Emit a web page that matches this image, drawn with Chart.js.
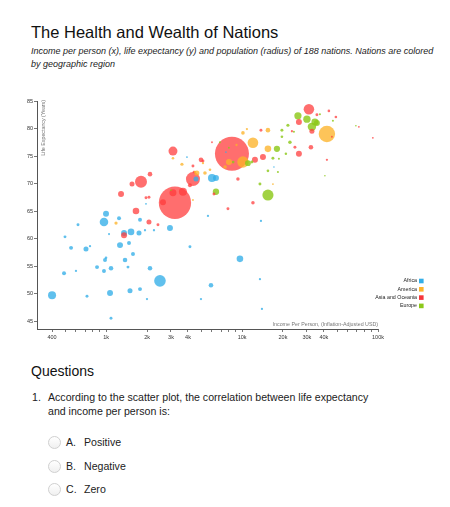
<!DOCTYPE html>
<html>
<head>
<meta charset="utf-8">
<script src="https://cdn.jsdelivr.net/npm/chart.js@4.4.1/dist/chart.umd.min.js"></script>
<style>
  html,body{margin:0;padding:0;background:#fff;}
  body{width:450px;height:507px;position:relative;overflow:hidden;font-family:"Liberation Sans",Arial,Helvetica,sans-serif;color:#111;}
  .abs{position:absolute;margin:0;white-space:nowrap;}
  #title{left:31px;top:22px;font-size:16.5px;font-weight:normal;line-height:20px;}
  #sub{left:31px;top:45px;font-size:9px;font-style:italic;line-height:13px;color:#222;}
  #wrap{position:absolute;left:0;top:90px;width:450px;height:260px;}
  #qh{left:31px;top:363px;font-size:14px;font-weight:normal;}
  .q{font-size:10.6px;line-height:14px;color:#222;}
  .radio{position:absolute;width:11px;height:11px;border-radius:50%;border:1px solid #d0d0d0;background:linear-gradient(#fff,#f0f0f0);}
</style>
</head>
<body>
<h1 class="abs" id="title">The Health and Wealth of Nations</h1>
<p class="abs" id="sub">Income per person (x), life expectancy (y) and population (radius) of 188 nations. Nations are colored<br>by geographic region</p>
<div id="wrap"><canvas id="c"></canvas></div>
<h2 class="abs" id="qh">Questions</h2>
<div class="abs q" style="left:32px;top:390px;">1.</div>
<div class="abs q" style="left:48px;top:390px;">According to the scatter plot, the correlation between life expectancy<br>and income per person is:</div>
<span class="radio" style="left:48px;top:436px;"></span>
<div class="abs q" style="left:66px;top:435px;">A.</div><div class="abs q" style="left:84px;top:435px;">Positive</div>
<span class="radio" style="left:48px;top:460px;"></span>
<div class="abs q" style="left:66px;top:459px;">B.</div><div class="abs q" style="left:84px;top:459px;">Negative</div>
<span class="radio" style="left:48px;top:483px;"></span>
<div class="abs q" style="left:66px;top:482px;">C.</div><div class="abs q" style="left:84px;top:482px;">Zero</div>

<script>
// ---- DATA ----
const regions = ['Africa', 'America', 'Asia and Oceania', 'Europe'];
// [income per person (USD), life expectancy (years), population (millions)]
const africa = [
  [400,49.7,74],[498,60.3,10],[621,62.5,10],[552,58.3,18],[490,53.7,18],[600,54.1,6],
  [761,58.6,6],[711,58.1,29],[723,49.5,10],[857,54.8,18],[964,54.1,18],[981,56.1,18],
  [998,56.5,8],[998,64.5,41],[964,63.0,85],[1086,54.6,24],[1068,50.1,41],[1086,45.5,10],
  [1050,60.8,5],[1244,63.7,18],[1265,58.8,41],[1354,61.0,41],[1377,56.1,24],[1448,54.8,10],
  [1524,61.2,50],[1498,50.5,29],[1473,59.2,18],[1576,57.2,18],[1745,61.0,29],[1775,63.4,18],
  [1775,50.8,18],[1931,61.5,6],[1998,49.0,6],[2102,54.6,24],[2249,61.5,6],[2489,52.3,155],
  [2948,61.9,41],[4136,58.5,10],[4986,49.0,6],[5612,64.1,6],[5905,51.5,24],[9643,56.3,50],
  [13768,63.2,6],[13536,52.6,6],[14004,47.2,6],[1964,66.3,4],[3932,74.8,4],[4580,70.8,29],
  [6006,71.0,74],[6427,71.0,41],[17156,73.0,3],[7610,75.7,3]
];
const america = [
  [1182,62.8,12],[3102,74.6,8],[3611,73.5,12],[5334,71.9,15],[5806,72.5,8],[4503,72.1,6],
  [4352,67.0,4],[8006,73.9,41],[10150,73.9,150],[12022,77.4,130],[10150,79.2,15],[10857,79.9,6],
  [15499,79.7,24],[15499,76.3,50],[16866,69.9,4],[42080,79.0,310],[5157,73.7,6],[7500,73.0,15],
  [4650,71.9,29],[9100,77.0,6]
];
const asiaOceania = [
  [1354,60.6,41],[1658,65.0,50],[2066,63.0,29],[2406,62.5,10],[2619,66.6,41],[3208,66.5,1200],
  [3102,68.3,56],[3673,68.5,74],[4136,69.7,18],[4352,70.8,225],[1805,70.3,165],[2102,71.7,24],
  [1550,69.9,29],[1287,68.1,41],[1964,67.4,10],[2066,67.5,10],[3102,75.9,93],[4352,73.2,10],
  [4986,74.3,24],[5157,74.1,10],[4427,72.1,8],[6006,77.5,4],[6213,68.1,10],[7874,65.4,10],
  [8424,75.4,1330],[9322,70.8,14],[12022,66.5,14],[12436,74.3,41],[14245,74.8,41],[13768,79.7,10],
  [26196,75.4,41],[24484,76.6,10],[32100,76.6,24],[31032,83.5,127],[26196,81.2,41],[35532,82.5,10],
  [32648,79.5,29],[43520,83.2,8],[49000,82.1,8],[45800,78.5,4],[72320,80.3,4],[91640,78.3,4],
  [42080,74.3,6],[23268,79.5,6]
];
const europe = [
  [2998,68.8,3],[6427,68.5,46],[6877,77.5,5],[11042,73.7,38],[15499,67.9,142],[13536,69.9,10],
  [15499,72.3,8],[18357,72.1,5],[16866,74.6,10],[18671,74.5,5],[18049,76.3,45],[19641,79.7,10],
  [21738,80.6,11],[22494,77.5,14],[21012,75.4,7],[24072,79.4,5],[25758,82.3,60],[29996,81.7,62],
  [34348,81.2,56],[32648,80.3,82],[35532,81.0,40],[37384,82.6,5],[46600,81.4,5],[68760,80.5,3],
  [40680,71.4,3],[8000,76.5,4],[8600,73.9,8],[11800,73.9,10],[19641,78.5,8]
];
const xTickValues = [400,500,600,700,800,900,1000,2000,3000,4000,5000,6000,7000,8000,9000,
                     10000,20000,30000,40000,50000,60000,70000,80000,90000,100000];
const xLabelValues = [400,1000,2000,3000,4000,10000,20000,30000,40000,100000];
const xLabelTexts  = ['400','1k','2k','3k','4k','10k','20k','30k','40k','100k'];
const yTickValues = [45,50,55,60,65,70,75,80,85];
const xTitle = 'Income Per Person, (Inflation-Adjusted USD)';
const yTitle = 'Life Expectancy (Years)';

// ---- STYLE ----
const baseColors = ['#33aee8', '#fdb42a', '#f6353b', '#8cc81a'];
const fillColors = ['rgba(51,174,232,0.78)', 'rgba(253,180,42,0.78)', 'rgba(255,60,60,0.74)', 'rgba(140,200,26,0.82)'];
const FONT = '"Liberation Sans", Arial, Helvetica, sans-serif';
const maxR = 17, maxPop = 1330;
const radiusOf = p => maxR * Math.sqrt(p / maxPop);

const points = [];
[africa, america, asiaOceania, europe].forEach((arr, ri) => {
  arr.forEach(d => points.push({ x: d[0], y: d[1], r: radiusOf(d[2]), pop: d[2], region: ri }));
});
points.sort((a, b) => b.pop - a.pop);

const overlay = {
  id: 'overlay',
  afterDraw(chart) {
    const { ctx, chartArea: a } = chart;
    ctx.save();
    ctx.font = '5.3px ' + FONT;
    ctx.fillStyle = '#777';
    ctx.textAlign = 'right';
    ctx.textBaseline = 'bottom';
    ctx.fillText(xTitle, a.right, a.bottom - 2);
    ctx.save();
    ctx.translate(a.left + 7, a.top - 1);
    ctx.rotate(-Math.PI / 2);
    ctx.textAlign = 'right';
    ctx.textBaseline = 'middle';
    ctx.fillText(yTitle, 0, 0);
    ctx.restore();
    // legend
    const lx = a.right + 39, ly = a.bottom - 48, step = 8.3, box = 4.6;
    ctx.font = '5.3px ' + FONT;
    ctx.textAlign = 'right';
    ctx.textBaseline = 'middle';
    regions.forEach((name, i) => {
      const y = ly + i * step;
      ctx.fillStyle = '#222';
      ctx.fillText(name, lx, y);
      ctx.fillStyle = baseColors[i];
      ctx.fillRect(lx + 2, y - box / 2, box, box);
    });
    ctx.restore();
  }
};

new Chart(document.getElementById('c'), {
  type: 'bubble',
  data: {
    datasets: [{
      data: points,
      backgroundColor: ctx => fillColors[ctx.raw.region],
      borderWidth: 0,
      hoverBorderWidth: 0
    }]
  },
  options: {
    responsive: true,
    maintainAspectRatio: false,
    animation: false,
    events: [],
    layout: { autoPadding: false, padding: { top: 11, right: 72, left: 0, bottom: 0 } },
    plugins: { legend: { display: false }, tooltip: { enabled: false } },
    scales: {
      x: {
        type: 'logarithmic',
        min: 310, max: 100000,
        afterBuildTicks: s => { s.ticks = xTickValues.map(v => ({ value: v })); },
        afterFit: s => { s.height = 21; },
        grid: { display: true, drawOnChartArea: false, drawTicks: true, tickLength: 3, color: '#555', lineWidth: 0.8 },
        border: { display: true, color: '#555', width: 1 },
        ticks: {
          autoSkip: false, maxRotation: 0, padding: 2, color: '#333',
          font: { size: 5.5, family: FONT },
          callback: v => { const i = xLabelValues.indexOf(v); return i >= 0 ? xLabelTexts[i] : ''; }
        }
      },
      y: {
        type: 'linear',
        min: 43.55, max: 85,
        afterBuildTicks: s => { s.ticks = yTickValues.map(v => ({ value: v })); },
        afterFit: s => { s.width = 37; },
        grid: { display: true, drawOnChartArea: false, drawTicks: true, tickLength: 3, color: '#555', lineWidth: 0.8 },
        border: { display: true, color: '#555', width: 1 },
        ticks: { padding: 1, color: '#333', font: { size: 5.5, family: FONT } }
      }
    }
  },
  plugins: [overlay]
});
</script>
</body>
</html>
